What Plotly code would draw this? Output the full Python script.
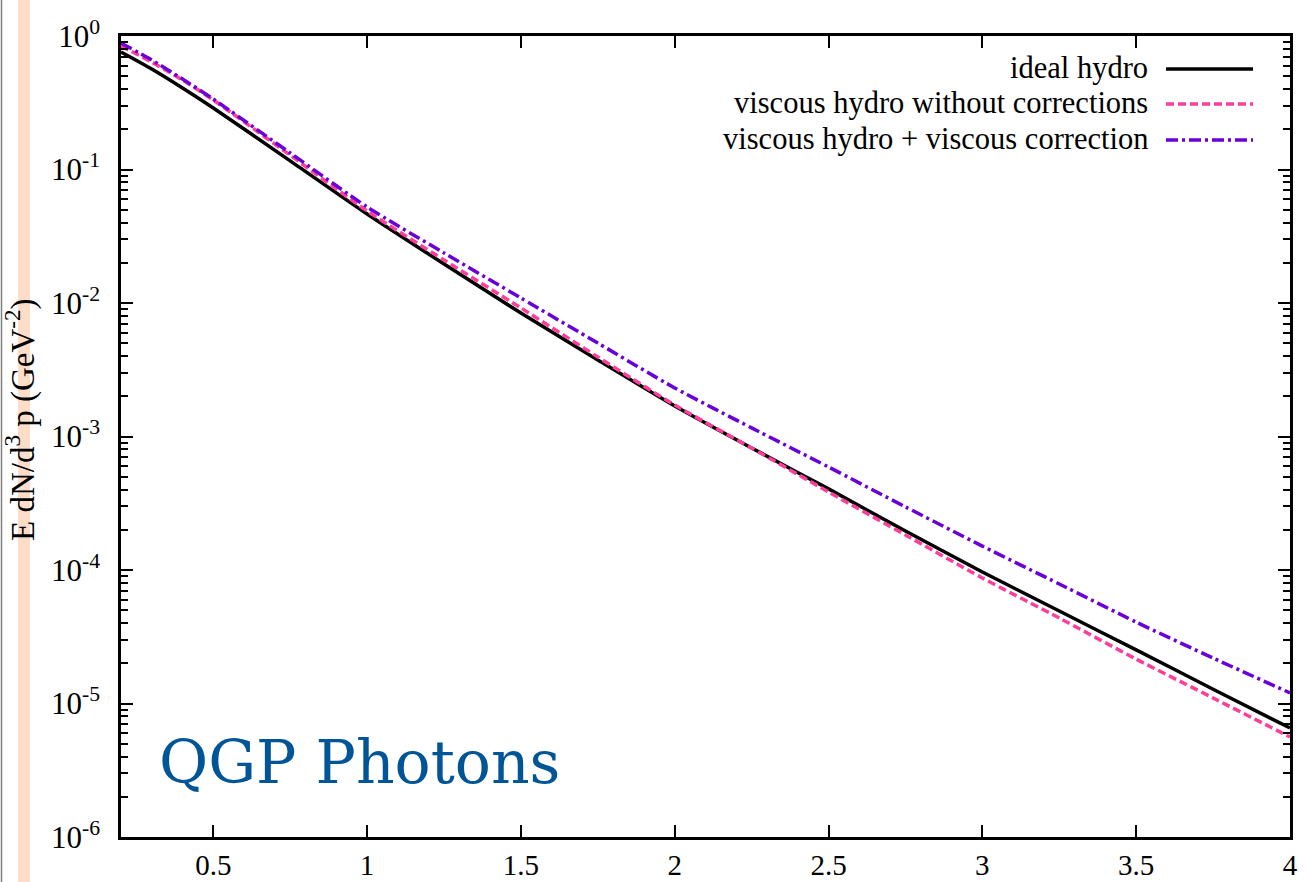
import plotly.graph_objects as go

# ---- data ----
pt = [0.2, 0.3, 0.4, 0.5, 0.75, 1.0, 1.25, 1.5, 1.75, 2.0, 2.25, 2.5, 2.75, 3.0, 3.25, 3.5, 3.75, 4.0]
ideal_hydro = [0.759, 0.566, 0.408, 0.289, 0.116, 0.0464, 0.0196, 0.00841, 0.00374, 0.00169,
               8.2e-4, 4.05e-4, 1.96e-4, 9.66e-5, 4.93e-5, 2.52e-5, 1.28e-5, 6.55e-6]
viscous_no_corr = [0.841, 0.638, 0.468, 0.332, 0.128, 0.0489, 0.0210, 0.00918, 0.00394, 0.00172,
                   8.2e-4, 3.84e-4, 1.83e-4, 8.71e-5, 4.37e-5, 2.15e-5, 1.10e-5, 5.61e-6]
viscous_corr = [0.887, 0.661, 0.476, 0.337, 0.133, 0.0524, 0.0237, 0.0109, 0.00501, 0.00231,
                0.00116, 5.91e-4, 2.97e-4, 1.51e-4, 7.86e-5, 4.07e-5, 2.19e-5, 1.20e-5]

series_names = ["ideal hydro", "viscous hydro without corrections", "viscous hydro + viscous correction"]
x_tickvals = [0.5, 1, 1.5, 2, 2.5, 3, 3.5, 4]
x_ticktext = ["0.5", "1", "1.5", "2", "2.5", "3", "3.5", "4"]
y_exponents = [-6, -5, -4, -3, -2, -1, 0]

# ---- styles ----
FONT = "Liberation Serif"
FS = 29
colors = ["#000000", "#ff3d9a", "#6a00d8"]
widths = [3.5, 3.5, 3.5]
dashes = ["solid", "8px,4px", "12px,4px,3px,4px"]

W, H = 1306, 882
L, R, T, B = 121, 16, 36, 45
pw, ph = W - L - R, H - T - B

def px_x(p):
    return (p - L) / pw

def px_y(p):
    return (H - B - p) / ph

fig = go.Figure()
for ys, name, c, w, d in zip([ideal_hydro, viscous_no_corr, viscous_corr], series_names, colors, widths, dashes):
    fig.add_trace(go.Scatter(x=pt, y=ys, mode="lines", name=name,
                             line=dict(color=c, width=w, dash=d, shape="spline", smoothing=0.6),
                             showlegend=False))

minor_vals = [m * 10 ** e for e in range(-6, 0) for m in range(2, 10)]

fig.update_layout(
    width=W, height=H,
    margin=dict(l=L, r=R, t=T, b=B, autoexpand=False),
    paper_bgcolor="white", plot_bgcolor="white",
    font=dict(family=FONT, size=FS, color="black"),
    showlegend=False,
    xaxis=dict(range=[0.2, 4], tickvals=x_tickvals, ticktext=x_ticktext,
               ticks="inside", ticklen=12, tickwidth=1.8, tickcolor="black",
               showline=True, linewidth=2.5, linecolor="black", mirror="allticks",
               showgrid=False, zeroline=False,
               tickfont=dict(family=FONT, size=FS, color="black")),
    yaxis=dict(type="log", range=[-6, 0],
               tickvals=[10.0 ** e for e in y_exponents],
               ticktext=["10<sup>%d</sup>" % e for e in y_exponents],
               ticks="inside", ticklen=12, tickwidth=1.8, tickcolor="black",
               minor=dict(tickvals=minor_vals, ticks="inside", ticklen=7, tickwidth=1.5,
                          tickcolor="black", showgrid=False),
               showline=True, linewidth=2.5, linecolor="black", mirror="allticks",
               showgrid=False, zeroline=False, ticklabelstandoff=12,
               tickfont=dict(family=FONT, size=31, color="black")),
)

# left page decorations (gray border + peach strip)
fig.add_shape(type="line", xref="paper", yref="paper", x0=px_x(1.5), x1=px_x(1.5),
              y0=px_y(H), y1=px_y(0), line=dict(color="#808080", width=1.5), layer="below")
fig.add_shape(type="rect", xref="paper", yref="paper", x0=px_x(18), x1=px_x(30),
              y0=px_y(H), y1=px_y(0), fillcolor="#fddcc8", line=dict(width=0), layer="below")

# y-axis title
fig.add_annotation(xref="paper", yref="paper", x=px_x(21), y=px_y(420),
                   text="E dN/d<sup>3</sup> p (GeV<sup>-2</sup>)", textangle=-90,
                   showarrow=False, xanchor="center", yanchor="middle",
                   font=dict(family=FONT, size=33, color="black"))

# legend (text left of line sample, right aligned)
rows = [68, 103, 139]
for name, c, w, d, r in zip(series_names, colors, widths, dashes, rows):
    fig.add_annotation(xref="paper", yref="paper", x=px_x(1150), y=px_y(r),
                       text=name, showarrow=False, xanchor="right", yanchor="middle",
                       font=dict(family=FONT, size=30.5, color="black"))
    fig.add_shape(type="line", xref="paper", yref="paper", x0=px_x(1166), x1=px_x(1253),
                  y0=px_y(r + 1), y1=px_y(r + 1), line=dict(color=c, width=w, dash=d))

# QGP Photons label
fig.add_annotation(xref="paper", yref="paper", x=px_x(359), y=px_y(762),
                   text="QGP Photons", showarrow=False, xanchor="center", yanchor="middle",
                   font=dict(family="DejaVu Serif", size=60, color="#005596"))

fig.write_html("out.html")
